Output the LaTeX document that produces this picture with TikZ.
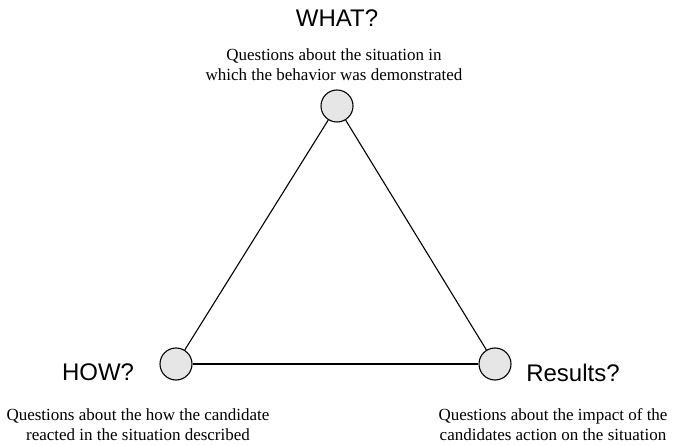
\documentclass[tikz,border=0pt]{standalone}
\usepackage{fontspec}
\setmainfont{Liberation Serif}
\setsansfont{Liberation Sans}
\usepackage{xcolor}
\usepackage{tikz}
\usetikzlibrary{positioning}
\definecolor{dotfill}{HTML}{E6E6E6}

\begin{document}
\begin{tikzpicture}[
    x=1pt, y=-1pt,
    dot/.style={circle, draw=black, line width=1.1pt, fill=dotfill, minimum size=32pt, inner sep=0pt},
    edge/.style={draw=black, line width=1.1pt},
    head/.style={font=\sffamily\fontsize{24}{26}\selectfont, inner sep=0pt},
    note/.style={font=\fontsize{17}{20}\selectfont, align=center, inner sep=0pt}
]
    \useasboundingbox (0,0) rectangle (674,446);

    % corners of the triangle
    \node[dot] (what) at (337,106) {};
    \node[dot] (how) at (176,364) {};
    \node[dot] (res) at (495,364) {};

    \draw[edge] (what) -- (how);
    \draw[edge] (how) -- (res);
    \draw[edge] (res) -- (what);

    % headings
    \node[head] (whatlbl) at (337,18) {WHAT?};
    \node[head] (howlbl) at (98,372) {HOW?};
    \node[head] (reslbl) at (573,373) {Results?};

    % descriptions
    \node[note] (whatnote) at (334,65) {Questions about the situation in\\which the behavior was demonstrated};
    \node[note] (hownote) at (138,425) {Questions about the how the candidate\\reacted in the situation described};
    \node[note] (resnote) at (553,425) {Questions about the impact of the\\candidates action on the situation};
\end{tikzpicture}
\end{document}
